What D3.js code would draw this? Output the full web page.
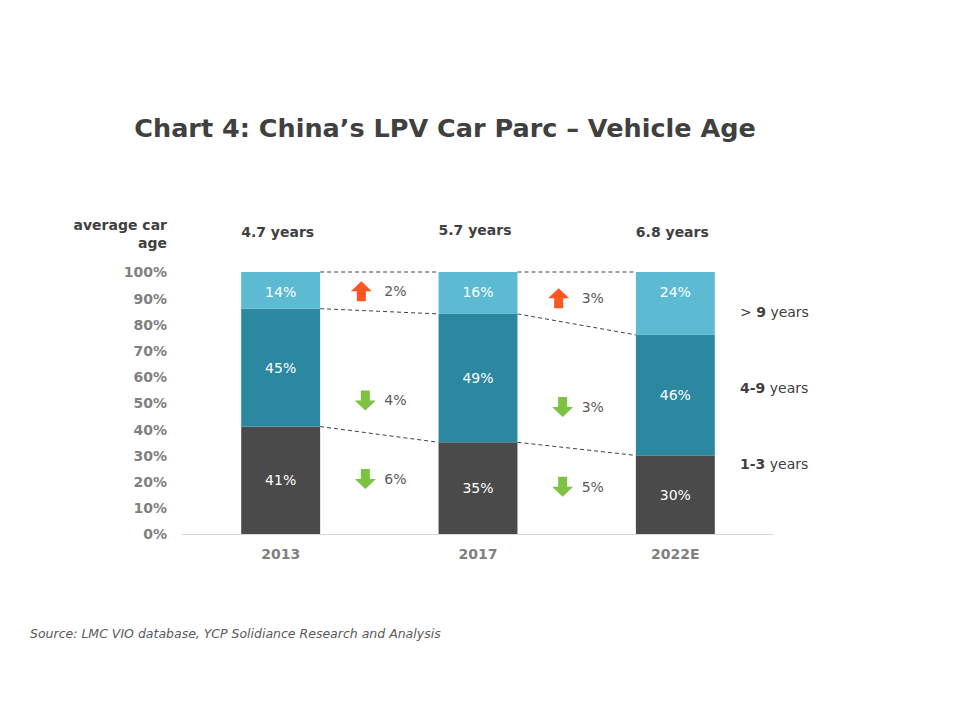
<!DOCTYPE html>
<html><head><meta charset="utf-8">
<script src="https://cdn.jsdelivr.net/npm/d3@7"></script>
<style>body{margin:0;background:#fff;} svg{display:block;}</style>
</head><body>
<script>
// ---- data ----
const years = ["2013", "2017", "2022E"];
const avgAge = ["4.7 years", "5.7 years", "6.8 years"];
const segments = ["1-3 years", "4-9 years", "> 9 years"];
const share13 = [41, 35, 30];   // 1-3 years
const share49 = [45, 49, 46];   // 4-9 years
const share9 = [14, 16, 24];    // > 9 years
const yTicks = [0, 10, 20, 30, 40, 50, 60, 70, 80, 90, 100];
// changes between periods
const changeFrom = [0, 0, 0, 1, 1, 1];
const changeDir = ["up", "down", "down", "up", "down", "down"];
const changeLabel = ["2%", "4%", "6%", "3%", "3%", "5%"];
const changeLevel = [92.7, 51, 21, 90, 48.5, 18];

const W = 960, H = 720;
const svg = d3.select("body").append("svg").attr("width", W).attr("height", H);
const font = "'DejaVu Sans', sans-serif";

const x = d3.scaleBand().domain(years).range([182, 774]).paddingInner(0.6).paddingOuter(0.3);
const y = d3.scaleLinear().domain([0, 100]).range([534, 272]);

const colors = {"1-3 years": "#4a4a4a", "4-9 years": "#2c88a0", "> 9 years": "#5dbad3"};

// title
svg.append("text").attr("x", 445).attr("y", 137).attr("text-anchor", "middle")
  .attr("font-family", font).attr("font-weight", "bold").attr("font-size", 25.5)
  .attr("fill", "#404040").text("Chart 4: China\u2019s LPV Car Parc \u2013 Vehicle Age");

// axis
const yAxis = d3.axisLeft(y).tickValues(yTicks).tickFormat(d => d + "%").tickSize(0).tickPadding(0);
const gy = svg.append("g").attr("transform", "translate(167,0)").call(yAxis);
gy.select(".domain").remove();
gy.selectAll("text").attr("font-family", font).attr("font-size", 14).attr("font-weight", "bold")
  .attr("fill", "#808080").attr("dy", "0.35em");

const xAxis = d3.axisBottom(x).tickSize(0).tickPadding(15);
const gx = svg.append("g").attr("transform", "translate(0,534)").call(xAxis);
gx.select(".domain").attr("stroke", "#d9d9d9").attr("d", "M182,0.5H774");
gx.selectAll("text").attr("font-family", font).attr("font-size", 14).attr("font-weight", "bold")
  .attr("fill", "#808080");

// stacked data
const rows = years.map((yr, i) => ({year: yr, "1-3 years": share13[i], "4-9 years": share49[i], "> 9 years": share9[i]}));
const stack = d3.stack().keys(segments)(rows);

// dashed connectors
const connectors = [];
stack.forEach(layer => {
  for (let i = 0; i < years.length - 1; i++) {
    connectors.push({x1: x(years[i]) + x.bandwidth(), y1: y(layer[i][1]), x2: x(years[i + 1]), y2: y(layer[i + 1][1])});
  }
});
svg.append("g").selectAll("line").data(connectors).join("line")
  .attr("x1", d => d.x1).attr("y1", d => d.y1).attr("x2", d => d.x2).attr("y2", d => d.y2)
  .attr("stroke", "#404040").attr("stroke-width", 1).attr("stroke-dasharray", "4,3");

// bars
stack.forEach(layer => {
  const key = layer.key;
  const g = svg.append("g");
  g.selectAll("rect").data(layer).join("rect")
    .attr("x", d => x(d.data.year)).attr("width", x.bandwidth())
    .attr("y", d => y(d[1])).attr("height", d => y(d[0]) - y(d[1]))
    .attr("fill", colors[key]);
  g.selectAll("text").data(layer).join("text")
    .attr("x", d => x(d.data.year) + x.bandwidth() / 2)
    .attr("y", d => key === "> 9 years" ? y(d[1]) + 20 : y((d[0] + d[1]) / 2))
    .attr("dy", "0.35em").attr("text-anchor", "middle")
    .attr("font-family", font).attr("font-size", 14).attr("fill", "#fff")
    .text(d => (d[1] - d[0]) + "%");
});

// average age header
const hdr = svg.append("g").attr("font-family", font).attr("font-weight", "bold").attr("font-size", 14).attr("fill", "#404040");
hdr.append("text").attr("x", 167).attr("y", 230).attr("text-anchor", "end").text("average car");
hdr.append("text").attr("x", 167).attr("y", 248).attr("text-anchor", "end").text("age");
hdr.selectAll("text.age").data(avgAge).join("text").attr("class", "age")
  .attr("x", (d, i) => x(years[i]) + x.bandwidth() / 2 - 3).attr("y", (d, i) => i === 1 ? 235 : 237)
  .attr("text-anchor", "middle").text(d => d);

// change arrows
const arrowUp = "M0,-10 L10.5,0 L4.5,0 L4.5,10 L-4.5,10 L-4.5,0 L-10.5,0 Z";
const arrowDown = "M0,10 L10.5,0 L4.5,0 L4.5,-10 L-4.5,-10 L-4.5,0 L-10.5,0 Z";
const chg = svg.append("g");
changeLabel.forEach((lbl, i) => {
  const i0 = changeFrom[i];
  const cx = (x(years[i0]) + x.bandwidth() + x(years[i0 + 1])) / 2;
  const cy = y(changeLevel[i]);
  const ax = cx - 16;
  chg.append("path").attr("d", changeDir[i] === "up" ? arrowUp : arrowDown)
    .attr("transform", `translate(${ax + (changeDir[i] === "up" ? -2 : 2)},${cy})`)
    .attr("fill", changeDir[i] === "up" ? "#fc5621" : "#7dc242");
  chg.append("text").attr("x", ax + 21).attr("y", cy).attr("dy", "0.35em")
    .attr("font-family", font).attr("font-size", 14).attr("fill", "#595959").text(lbl);
});

// right legend labels
const legY = {"> 9 years": 312, "4-9 years": 388, "1-3 years": 464};
segments.forEach(s => {
  const parts = s.split(" ");
  const t = svg.append("text").attr("x", 740).attr("y", legY[s]).attr("dy", "0.35em")
    .attr("font-family", font).attr("font-size", 14).attr("fill", "#404040");
  if (s === "> 9 years") {
    t.append("tspan").text("> ");
    t.append("tspan").attr("font-weight", "bold").text("9");
    t.append("tspan").text(" years");
  } else {
    t.append("tspan").attr("font-weight", "bold").text(parts[0]);
    t.append("tspan").text(" years");
  }
});

// source
svg.append("text").attr("x", 30).attr("y", 638).attr("font-family", font).attr("font-style", "italic")
  .attr("font-size", 12.5).attr("fill", "#595959")
  .text("Source: LMC VIO database, YCP Solidiance Research  and Analysis");
</script>
</body></html>
